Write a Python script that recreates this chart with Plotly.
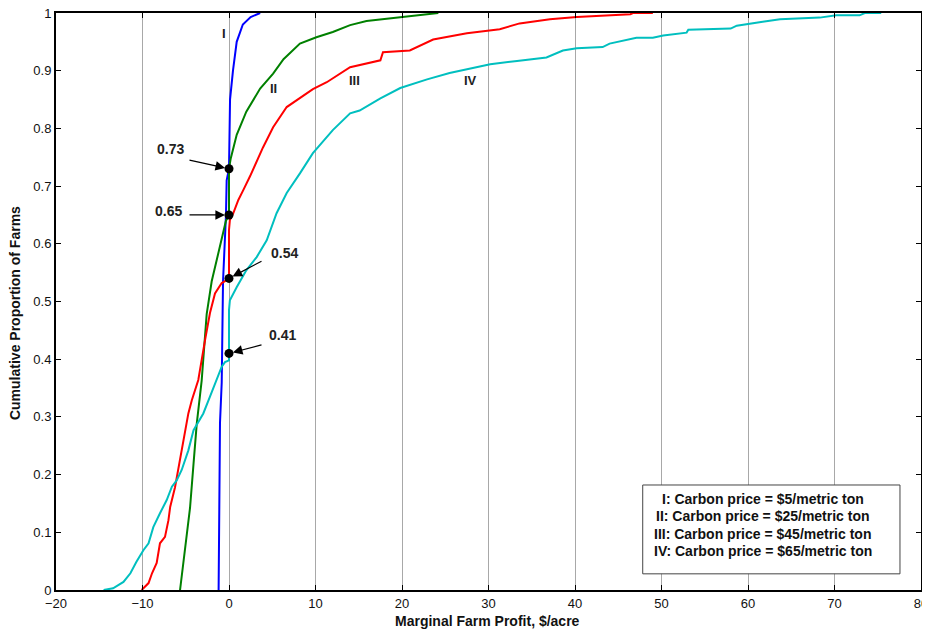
import plotly.graph_objects as go

# Curve I: carbon price $5/metric ton
x_I = [-1.2, -1.16, -1.04, -0.84, -0.69, -0.35, -0.27, 0.0, 0.05, 0.12, 0.46, 0.89, 1.6, 2.5, 3.6]
y_I = [0.0, 0.05, 0.29, 0.36, 0.535, 0.65, 0.71, 0.73, 0.78, 0.85, 0.90, 0.95, 0.98, 0.993, 1.0]

# Curve II: $25/metric ton
x_II = [-5.66, -5.09, -4.5, -4.1, -3.73, -3.16, -2.58, -2.0, -1.04, -0.35, 0.0, 0.0, 0.2, 0.89, 2.0, 3.6, 5.1,
        6.3, 8.2, 10.1, 12.0, 14.0, 15.9, 19.8, 22.4, 24.2]
y_II = [0.0, 0.074, 0.143, 0.219, 0.288, 0.363, 0.478, 0.535, 0.593, 0.64, 0.65, 0.73, 0.748, 0.789, 0.829,
        0.869, 0.895, 0.92, 0.947, 0.958, 0.967, 0.979, 0.986, 0.993, 0.997, 1.0]

# Curve III: $45/metric ton
x_III = [-10.1, -9.3, -8.9, -8.36, -7.98, -7.4, -7.0, -6.8, -6.24, -5.86, -5.28, -4.7, -4.3, -3.55, -2.77,
         -2.2, -1.62, -0.84, -0.27, 0.0, 0.0, 0.1, 0.5, 1.08, 1.65, 2.43, 3.93, 5.1, 6.67, 8.2, 9.7, 11.3,
         14.0, 17.5, 17.8, 20.9, 23.6, 27.5, 31.3, 33.6, 37.1, 40.2, 46.4, 46.7, 49.0]
y_III = [0.0, 0.012, 0.029, 0.047, 0.081, 0.092, 0.121, 0.144, 0.178, 0.208, 0.26, 0.306, 0.329, 0.364, 0.433,
         0.48, 0.514, 0.532, 0.537, 0.54, 0.624, 0.641, 0.653, 0.676, 0.693, 0.717, 0.767, 0.802, 0.837, 0.852,
         0.868, 0.88, 0.906, 0.918, 0.932, 0.935, 0.954, 0.965, 0.972, 0.982, 0.989, 0.993, 0.998, 1.0, 1.0]

# Curve IV: $65/metric ton
x_IV = [-14.5, -13.4, -12.2, -11.4, -10.7, -9.9, -9.3, -8.75, -7.98, -7.2, -6.6, -6.05, -5.47, -4.7, -4.1,
        -2.97, -2.2, -1.42, -0.84, -0.46, 0.0, 0.0, 0.1, 0.9, 2.0, 3.2, 4.36, 5.5, 6.67, 8.2, 9.7, 12.0,
        14.0, 15.1, 17.5, 19.8, 22.9, 25.5, 28.2, 30.2, 33.3, 36.7, 38.6, 40.2, 43.2, 44.0, 47.1, 49.0, 50.2,
        52.9, 53.1, 58.0, 58.7, 59.8, 61.7, 63.7, 68.3, 70.2, 72.9, 73.5, 75.4]
y_IV = [0.0, 0.003, 0.014, 0.029, 0.049, 0.069, 0.081, 0.109, 0.133, 0.156, 0.179, 0.19, 0.208, 0.242, 0.277,
        0.306, 0.335, 0.364, 0.387, 0.395, 0.398, 0.485, 0.502, 0.525, 0.554, 0.577, 0.606, 0.653, 0.688,
        0.722, 0.757, 0.797, 0.826, 0.831, 0.852, 0.87, 0.885, 0.896, 0.904, 0.911, 0.917, 0.923, 0.935,
        0.939, 0.941, 0.947, 0.957, 0.957, 0.961, 0.966, 0.971, 0.973, 0.978, 0.981, 0.985, 0.989, 0.992,
        0.996, 0.996, 1.0, 1.0]

series_names = ["I", "II", "III", "IV"]
series_colors = ["#0000ff", "#008000", "#ff0000", "#00bfbf"]

# Marked proportions at zero profit
marked_y = [0.73, 0.65, 0.54, 0.41]
marked_labels = ["0.73", "0.65", "0.54", "0.41"]

legend_lines = [
    "I: Carbon price = $5/metric ton",
    "II: Carbon price = $25/metric ton",
    "III: Carbon price = $45/metric ton",
    "IV: Carbon price = $65/metric ton",
]

x_ticks = [-20, -10, 0, 10, 20, 30, 40, 50, 60, 70, 80]
y_ticks = [0, 0.1, 0.2, 0.3, 0.4, 0.5, 0.6, 0.7, 0.8, 0.9, 1]

x_title = "Marginal Farm Profit, $/acre"
y_title = "Cumulative Proportion of Farms"

FONT = "Liberation Sans, Arial, sans-serif"

fig = go.Figure()
for xs, ys, name, col in zip([x_I, x_II, x_III, x_IV], [y_I, y_II, y_III, y_IV], series_names, series_colors):
    fig.add_trace(go.Scatter(x=xs, y=ys, mode="lines", name=name,
                             line=dict(color=col, width=2), showlegend=False))

fig.add_trace(go.Scatter(x=[0] * len(marked_y), y=marked_y, mode="markers",
                         marker=dict(color="black", size=9, symbol="circle"), showlegend=False))

# Curve labels
curve_label_pos = [(-0.6, 0.965), (5.1, 0.87), (14.5, 0.883), (27.9, 0.883)]
for name, (lx, ly) in zip(series_names, curve_label_pos):
    fig.add_annotation(x=lx, y=ly, text="<b>%s</b>" % name, showarrow=False,
                       font=dict(family=FONT, size=13, color="#222"))

# Arrows and value labels
arrow_offsets = [(-41, -9), (-41, 0), (34, -18), (34, -9)]
text_pos = [(-6.74, 0.764), (-6.94, 0.657), (6.47, 0.584), (6.24, 0.442)]
for yv, lab, (axo, ayo), (tx, ty) in zip(marked_y, marked_labels, arrow_offsets, text_pos):
    fig.add_annotation(x=0, y=yv, text="", showarrow=True, ax=axo, ay=ayo,
                       arrowhead=2, arrowsize=1.6, arrowwidth=1.2, arrowcolor="black", standoff=4)
    fig.add_annotation(x=tx, y=ty, text="<b>%s</b>" % lab, showarrow=False,
                       font=dict(family=FONT, size=14, color="#222"))

# Legend box
fig.add_shape(type="rect", x0=47.83, x1=77.57, y0=0.028, y1=0.182,
              line=dict(color="#444", width=1), fillcolor="white", layer="above")
legend_y = [0.158, 0.128, 0.097, 0.067]
for txt, ly in zip(legend_lines, legend_y):
    fig.add_annotation(x=61.7, y=ly, text="<b>%s</b>" % txt, showarrow=False,
                       font=dict(family=FONT, size=14, color="#111"))

# Axis titles
fig.add_annotation(xref="paper", yref="paper", x=0.4985, y=-0.0537, xanchor="center", yanchor="middle",
                   text="<b>%s</b>" % x_title, showarrow=False,
                   font=dict(family=FONT, size=14, color="#111"))
fig.add_annotation(xref="paper", yref="paper", x=-0.0474, y=0.48, xanchor="center", yanchor="middle",
                   text="<b>%s</b>" % y_title, showarrow=False, textangle=-90,
                   font=dict(family=FONT, size=14, color="#111"))

# The page body adds an 8px offset, so the figure is sized to fill the rest of the window
fig.update_layout(
    width=922, height=625,
    margin=dict(l=48, r=9, t=5, b=43, autoexpand=False),
    paper_bgcolor="white", plot_bgcolor="white",
    font=dict(family=FONT, size=13, color="black"),
)
fig.update_xaxes(range=[-20, 80], tickvals=x_ticks, ticks="inside", ticklen=5, tickcolor="black",
                 showline=True, linecolor="black", linewidth=2, mirror="allticks", automargin=False,
                 showgrid=True, gridcolor="#a8a8a8", gridwidth=1, zeroline=False,
                 ticklabeloverflow="allow", tickfont=dict(size=13, color="#111"))
fig.update_yaxes(range=[0, 1], tickvals=y_ticks, ticks="inside", ticklen=5, tickcolor="black",
                 showline=True, linecolor="black", linewidth=2, mirror="allticks", automargin=False,
                 showgrid=False, zeroline=False,
                 ticklabeloverflow="allow", tickfont=dict(size=13, color="#111"))

fig.write_html("out.html")
